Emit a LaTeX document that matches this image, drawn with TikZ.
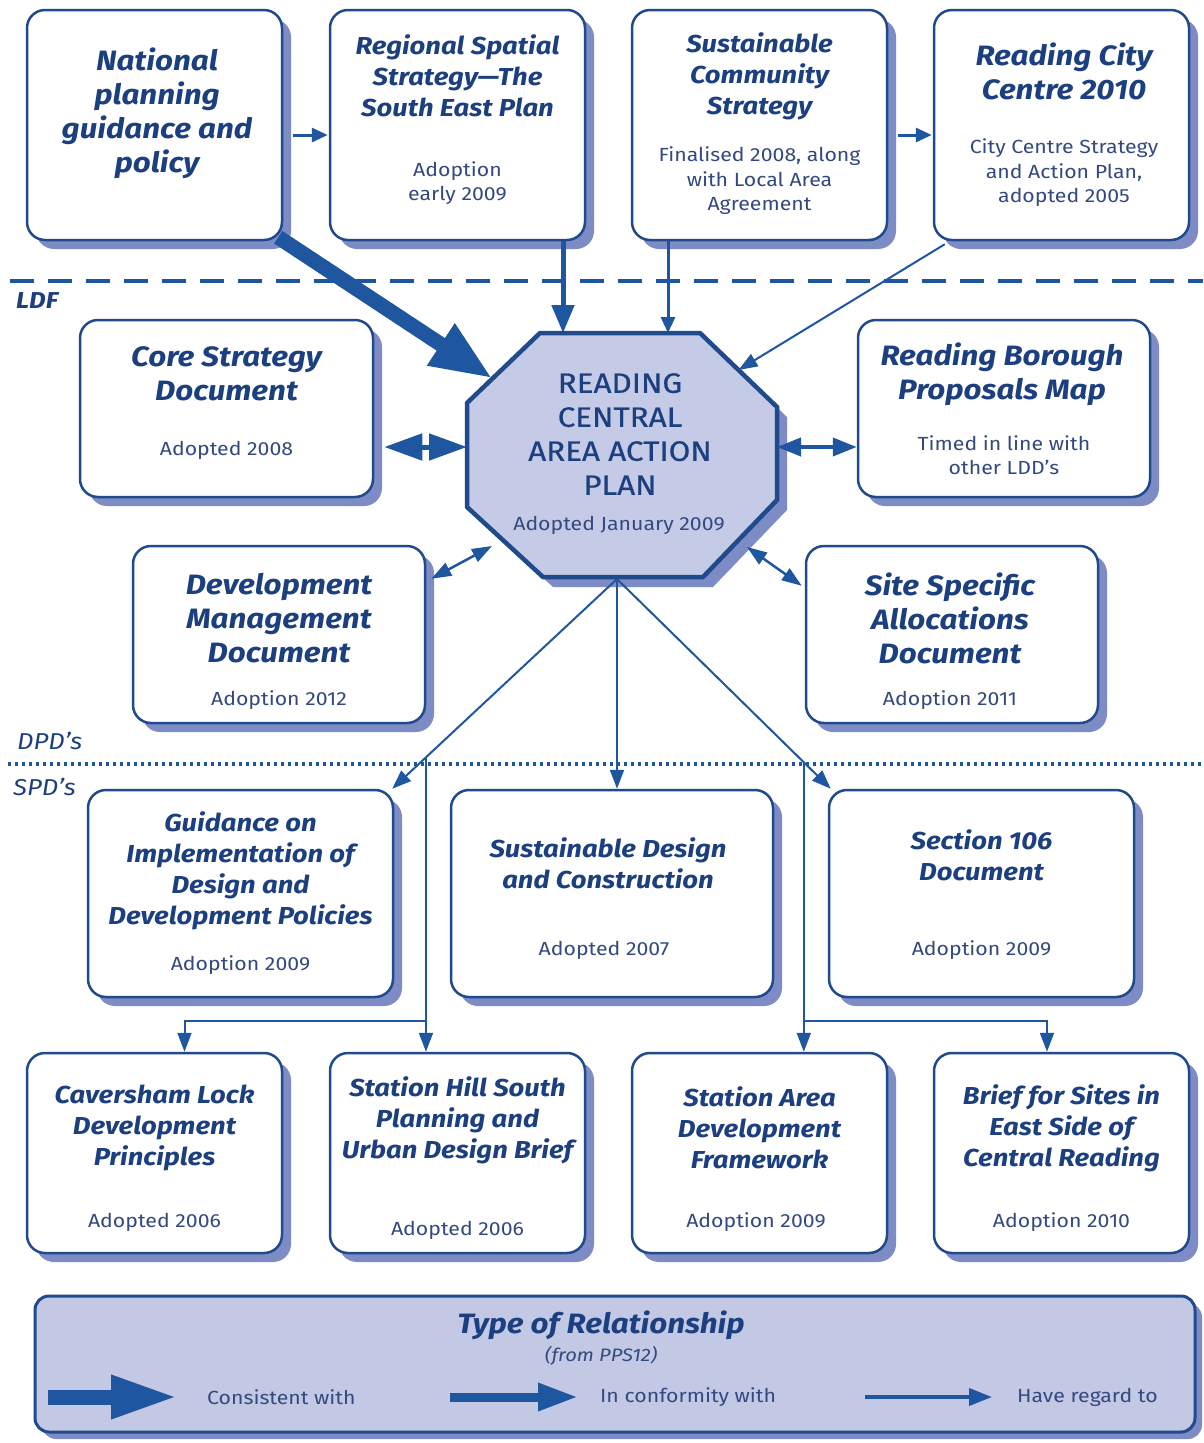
\documentclass[tikz,border=0pt]{standalone}
\usepackage{fontspec}
\setmainfont{Fira Sans}[FakeStretch=1.12]
\newfontfamily\capsfont{Fira Sans}[FakeStretch=1.12, FakeBold=0.6]
\usetikzlibrary{arrows.meta,shadows,calc}
\definecolor{titlec}{HTML}{1C3F80}
\definecolor{subc}{HTML}{34497F}
\definecolor{boxc}{HTML}{1F4A8C}
\definecolor{linec}{HTML}{1E56A0}
\definecolor{shadowc}{HTML}{7E8CC6}
\definecolor{octc}{HTML}{C5CBE7}
\definecolor{legc}{HTML}{C3C8E4}
\begin{document}
\begin{tikzpicture}[x=1pt,y=-1pt,
  docbox/.style={draw=boxc, line width=2.5pt, fill=white, rounded corners=18pt, inner sep=0pt,
    drop shadow={shadow xshift=9pt, shadow yshift=-9pt, fill=shadowc, opacity=1}},
  ttl/.style={text=titlec, font=\bfseries\itshape\fontsize{28}{34}\selectfont, align=center, inner sep=0pt},
  ttls/.style={text=titlec, font=\bfseries\itshape\fontsize{24.5}{31}\selectfont, align=center, inner sep=0pt},
  sub/.style={text=subc, font=\fontsize{19}{24.5}\selectfont, align=center, inner sep=0pt},
  octt/.style={text=titlec, font=\capsfont\fontsize{28}{34}\selectfont, align=center, inner sep=0pt},
  lbl/.style={text=titlec, font=\itshape\fontsize{23}{26}\selectfont, inner sep=0pt, anchor=west},
  legl/.style={text=subc, font=\fontsize{19}{22}\selectfont, inner sep=0pt, anchor=west},
  consist/.style={draw=linec, line width=15pt, -{Triangle[length=62pt,width=46pt]}},
  conform/.style={draw=linec, line width=5pt, -{Triangle[length=28pt,width=22pt]}},
  smallarr/.style={draw=linec, line width=3pt, -{Triangle[length=16pt,width=14pt]}},
  regard/.style={draw=linec, line width=2pt, -{Triangle[length=19pt,width=14pt]}},
  dblwide/.style={draw=linec, line width=5pt, {Triangle[length=38pt,width=26pt]}-{Triangle[length=38pt,width=26pt]}},
  dblmid/.style={draw=linec, line width=4pt, {Triangle[length=24pt,width=18pt]}-{Triangle[length=24pt,width=18pt]}},
  dblthin/.style={draw=linec, line width=2.5pt, {Triangle[length=20pt,width=14pt]}-{Triangle[length=20pt,width=14pt]}}
]
\useasboundingbox (0,0) rectangle (1203,1443);
\fill[white] (0,0) rectangle (1203,1443);

% section dividers
\draw[linec, line width=4.5pt, dash pattern=on 24pt off 14pt] (10,281) -- (1203,281);
\draw[linec, line width=4pt, dash pattern=on 3pt off 4pt] (8,764) -- (1203,764);
\node[lbl, font=\bfseries\itshape\fontsize{23}{26}\selectfont] (ldf) at (16,301) {LDF};
\node[lbl] (dpd) at (17,741) {DPD's};
\node[lbl] (spd) at (13,787) {SPD's};

% top row
\node[docbox, minimum width=255pt, minimum height=230pt] (nat) at (154.5,125) {};
\node[ttl] (nat-t) at (157,113) {National\\planning\\guidance and\\policy};
\node[docbox, minimum width=255pt, minimum height=230pt] (reg) at (457.5,125) {};
\node[ttls] (reg-t) at (457.5,76) {Regional Spatial\\Strategy---The\\South East Plan};
\node[sub] (reg-s) at (457.5,183) {Adoption\\early 2009};
\node[docbox, minimum width=255pt, minimum height=230pt] (sus) at (759.5,125) {};
\node[ttls] (sus-t) at (759.5,76) {Sustainable\\Community\\Strategy};
\node[sub] (sus-s) at (759.5,181) {Finalised 2008, along\\with Local Area\\Agreement};
\node[docbox, minimum width=255pt, minimum height=230pt] (rcc) at (1061.5,125) {};
\node[ttl] (rcc-t) at (1064,71) {Reading City\\Centre 2010};
\node[sub] (rcc-s) at (1064,173) {City Centre Strategy\\and Action Plan,\\adopted 2005};

% central octagon
\coordinate (o1) at (540,333);
\coordinate (o2) at (700,333);
\coordinate (o3) at (777,407);
\coordinate (o4) at (777,500);
\coordinate (o5) at (703,577);
\coordinate (o6) at (543,577);
\coordinate (o7) at (467,507);
\coordinate (o8) at (467,403);
\fill[shadowc] ([shift={(10,10)}]o1) -- ([shift={(10,10)}]o2) -- ([shift={(10,10)}]o3) -- ([shift={(10,10)}]o4)
  -- ([shift={(10,10)}]o5) -- ([shift={(10,10)}]o6) -- ([shift={(10,10)}]o7) -- ([shift={(10,10)}]o8) -- cycle;
\draw[boxc, line width=4.5pt, fill=octc, line join=miter] (o1) -- (o2) -- (o3) -- (o4) -- (o5) -- (o6) -- (o7) -- (o8) -- cycle;
\node[octt] (rcaap) at (620,434) {READING\\CENTRAL\\AREA ACTION\\PLAN};
\node[sub] (rcaap-s) at (619,525) {Adopted January 2009};

% development plan documents
\node[docbox, minimum width=293pt, minimum height=177pt] (core) at (226.5,408.5) {};
\node[ttl] (core-t) at (226.5,374) {Core Strategy\\Document};
\node[sub] (core-s) at (226.5,450) {Adopted 2008};
\node[docbox, minimum width=292pt, minimum height=177pt] (rbpm) at (1004,408.5) {};
\node[ttl] (rbpm-t) at (1002,374) {Reading Borough\\Proposals Map};
\node[sub] (rbpm-s) at (1004,455) {Timed in line with\\other LDD's};
\node[docbox, minimum width=292pt, minimum height=177pt] (dev) at (279,634.5) {};
\node[ttl] (dev-t) at (279,618) {Development\\Management\\Document};
\node[sub] (dev-s) at (279,700) {Adoption 2012};
\node[docbox, minimum width=292pt, minimum height=177pt] (site) at (952,634.5) {};
\node[ttl] (site-t) at (950,618) {Site Specific\\Allocations\\Document};
\node[sub] (site-s) at (950,700) {Adoption 2011};

% supplementary planning documents
\node[docbox, minimum width=305pt, minimum height=207pt] (guid) at (240.5,893.5) {};
\node[ttls] (guid-t) at (240.5,871) {Guidance on\\Implementation of\\Design and\\Development Policies};
\node[sub] (guid-s) at (240.5,965) {Adoption 2009};
\node[docbox, minimum width=322pt, minimum height=207pt] (sd) at (612,893.5) {};
\node[ttls] (sd-t) at (608,863) {Sustainable Design\\and Construction};
\node[sub] (sd-s) at (604,950) {Adopted 2007};
\node[docbox, minimum width=305pt, minimum height=207pt] (s106) at (981.5,893.5) {};
\node[ttls] (s106-t) at (981.5,855) {Section 106\\Document};
\node[sub] (s106-s) at (981.5,950) {Adoption 2009};

\node[docbox, minimum width=255pt, minimum height=200pt] (cav) at (154.5,1153) {};
\node[ttls] (cav-t) at (154.5,1128) {Caversham Lock\\Development\\Principles};
\node[sub] (cav-s) at (154.5,1222) {Adopted 2006};
\node[docbox, minimum width=255pt, minimum height=200pt] (sh) at (457.5,1153) {};
\node[ttls] (sh-t) at (457.5,1120) {Station Hill South\\Planning and\\Urban Design Brief};
\node[sub] (sh-s) at (457.5,1230) {Adopted 2006};
\node[docbox, minimum width=255pt, minimum height=200pt] (sa) at (759.5,1153) {};
\node[ttls] (sa-t) at (759.5,1128) {Station Area\\Development\\Framework};
\node[sub] (sa-s) at (756,1222) {Adoption 2009};
\node[docbox, minimum width=255pt, minimum height=200pt] (brief) at (1061.5,1153) {};
\node[ttls] (brief-t) at (1061.5,1128) {Brief for Sites in\\East Side of\\Central Reading};
\node[sub] (brief-s) at (1061.5,1222) {Adoption 2010};

% connectors into the action plan
\draw[smallarr] ([xshift=10pt,yshift=-10pt]nat.east) -- ([xshift=-1pt,yshift=-10pt]reg.west);
\draw[smallarr] ([xshift=10pt,yshift=-10pt]sus.east) -- ([xshift=-1pt,yshift=-10pt]rcc.west);
\draw[consist] ([xshift=-5pt,yshift=4pt]nat.south east) -- ($(o8)!0.35!(o1)$);
\coordinate (r-in) at (563,333);
\draw[conform] (r-in |- reg.south) -- (r-in);
\coordinate (s-in) at (668,333);
\draw[smallarr] (s-in |- sus.south) -- (s-in);
\draw[regard] ([xshift=12pt,yshift=-3pt]rcc.south west) -- ($(o2)!0.5!(o3)$);

% two-way links with the other development plan documents
\coordinate (ca) at ([xshift=10pt,yshift=-38.5pt]core.east);
\draw[dblwide] (ca) -- (ca -| o8);
\coordinate (ra) at ([yshift=-38.5pt]rbpm.west);
\draw[dblmid] (ra -| o3) -- (ra);
\coordinate (d-in) at (492,546);
\draw[dblthin] ([xshift=5pt,yshift=-34pt]dev.north east) -- (d-in);
\coordinate (si-in) at (747,547);
\draw[dblthin] (si-in) -- ([xshift=-3pt,yshift=-41pt]site.north west);

% links down to the supplementary documents
\coordinate (ob) at (617,579);
\coordinate (g-in) at ([xshift=-2pt]guid.north east);
\coordinate (x-in) at ([xshift=3pt]s106.north west);
\draw[regard] (ob) -- (g-in);
\draw[regard] (ob) -- (ob |- sd.north);
\draw[regard] (ob) -- (x-in);
\coordinate (bl) at ($(ob)!0.85!(g-in)$);
\draw[regard] (bl) -- (bl |- sh.north);
\coordinate (jl) at ($(bl |- sh.north)+(0,-31)$);
\draw[regard] (jl) -| ([xshift=30pt]cav.north);
\coordinate (br) at ($(ob)!0.874!(x-in)$);
\draw[regard] (br) -- (br |- sa.north);
\coordinate (jr) at ($(br |- sa.north)+(0,-31)$);
\draw[regard] (jr) -| ([xshift=-14.5pt]brief.north);

% key
\node[draw=boxc, line width=3pt, fill=legc, rounded corners=14pt, minimum width=1160pt, minimum height=136pt,
  drop shadow={shadow xshift=7pt, shadow yshift=-7pt, fill=shadowc, opacity=1}] (legend) at (615,1364) {};
\node[ttl] (leg-t) at (601,1325) {Type of Relationship};
\node[text=subc, font=\itshape\fontsize{18}{20}\selectfont, inner sep=0pt] (leg-s) at (601,1356) {(from PPS12)};
\node[legl] (l1) at (207,1397) {Consistent with};
\node[legl] (l2) at (600,1397) {In conformity with};
\node[legl] (l3) at (1017,1397) {Have regard to};
\draw[draw=linec, line width=15pt, -{Triangle[length=67pt,width=40pt]}] ([xshift=-159pt]l1.west) -- ([xshift=-29pt]l1.west);
\draw[draw=linec, line width=9pt, -{Triangle[length=40pt,width=26pt]}] ([xshift=-150pt]l2.west) -- ([xshift=-22pt]l2.west);
\draw[draw=linec, line width=4pt, -{Triangle[length=23pt,width=17pt]}] ([xshift=-152pt]l3.west) -- ([xshift=-25pt]l3.west);
\end{tikzpicture}
\end{document}
